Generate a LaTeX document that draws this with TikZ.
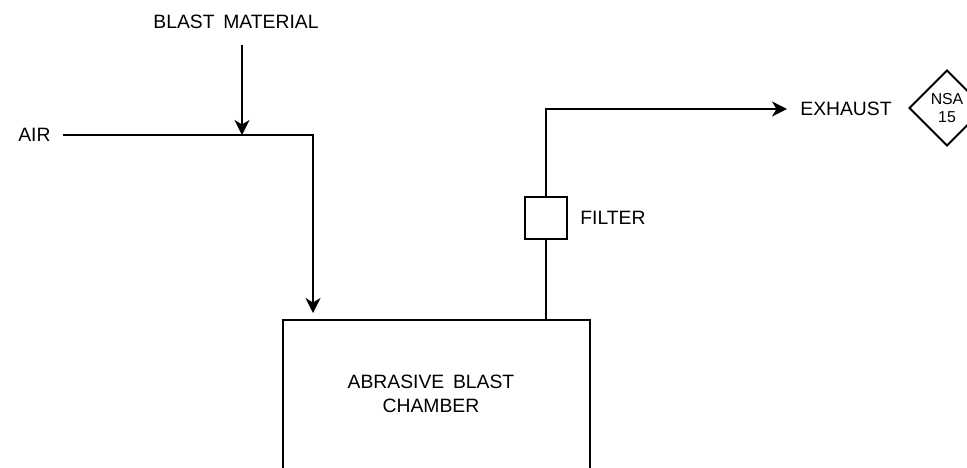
\documentclass[tikz,border=0pt]{standalone}
\usepackage{fontspec}
\setmainfont{Liberation Sans}
\usetikzlibrary{arrows.meta,shapes.geometric}
\tikzset{
  flow/.style={line width=1.1pt, -{Stealth[length=0.3cm,width=0.3cm,inset=0.09cm]}},
  pipe/.style={line width=1.1pt},
  lbl/.style={inner sep=0pt, font=\fontsize{11}{14}\selectfont},
}
\newcommand{\wsp}{\hspace{0.45em}}
\begin{document}
\begin{tikzpicture}[x=0.02cm,y=-0.02cm]
\useasboundingbox (0,0) rectangle (967,467);
\node[lbl] (blastlbl) at (236,22) {BLAST\wsp MATERIAL};
\coordinate (bmtop) at (242,45);
\node[lbl, anchor=west] (air) at (18,135) {AIR};
\coordinate (airend) at (63,135);
\coordinate (join) at (242,135);
\coordinate (corner) at (313,135);
\node[minimum width=6.12cm, minimum height=2.94cm, anchor=north west, inner sep=0pt] (chamber) at (283,320) {};
\node[lbl, align=center] (chambertxt) at (431,394) {ABRASIVE\wsp BLAST\\CHAMBER};
\draw[pipe] (chamber.south west) |- (chamber.north east) -- (chamber.south east);
\draw[flow] (airend) -- (corner) -- ([yshift=0.14cm]corner |- chamber.north);
\draw[flow] (bmtop) -- (join);
\node[draw, line width=1.1pt, minimum size=0.84cm, inner sep=0pt] (filter) at (546,218) {};
\node[lbl, anchor=west] (filterlbl) at (580,218) {FILTER};
\draw[pipe] (filter.south) -- (filter.south |- chamber.north);
\node[lbl, anchor=west] (exhaust) at (800,109) {EXHAUST};
\draw[flow] (filter.north) |- ([xshift=-0.26cm]exhaust.west);
\node[draw, diamond, line width=1.1pt, minimum size=1.52cm, inner sep=0pt, align=center, font=\fontsize{9}{10}\selectfont] (nsa) at (947,108) {NSA\\15};
\end{tikzpicture}
\end{document}
